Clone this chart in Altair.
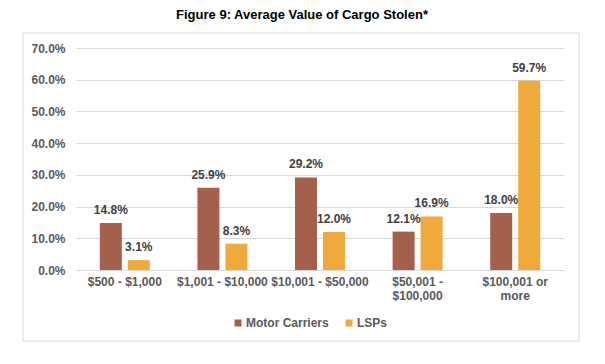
import altair as alt
import pandas as pd

categories = ["$500 - $1,000", "$1,001 - $10,000", "$10,001 - $50,000",
              "$50,001 - $100,000", "$100,001 or more"]
series = ["Motor Carriers", "LSPs"]
motor_carriers = [0.148, 0.259, 0.292, 0.121, 0.180]
lsps = [0.031, 0.083, 0.120, 0.169, 0.597]
y_ticks = [0.0, 0.1, 0.2, 0.3, 0.4, 0.5, 0.6, 0.7]
colors = ["#A3604B", "#F0A93C"]

rows = []
for c, m, l in zip(categories, motor_carriers, lsps):
    rows.append({"range": c, "series": series[0], "value": m})
    rows.append({"range": c, "series": series[1], "value": l})
df = pd.DataFrame(rows)

FONT = "Liberation Sans"

label_expr = ("datum.label == '$50,001 - $100,000' ? ['$50,001 -', '$100,000'] : "
              "datum.label == '$100,001 or more' ? ['$100,001 or', 'more'] : datum.label")

y_enc = alt.Y("value:Q", title=None, scale=alt.Scale(domain=[0, 0.7], nice=False),
              axis=alt.Axis(format=".1%", values=y_ticks, tickCount=8, domain=False,
                            ticks=False, gridColor="#d9d9d9", labelFont=FONT,
                            labelFontSize=12, labelFontWeight="bold",
                            labelColor="#595959", labelPadding=11,
                            labelOverlap=False))

base = alt.Chart(df).encode(
    x=alt.X("range:N", sort=categories, title=None,
            scale=alt.Scale(paddingInner=0.488, paddingOuter=0.244),
            axis=alt.Axis(labelAngle=0, ticks=False, domainColor="#d9d9d9",
                          labelFont=FONT, labelFontSize=12, labelFontWeight="bold",
                          labelColor="#595959", labelPadding=6, labelLineHeight=14,
                          labelExpr=label_expr)),
    xOffset=alt.XOffset("series:N", sort=series,
                        scale=alt.Scale(paddingInner=0.214, paddingOuter=0)),
    y=y_enc,
)

bars = base.mark_bar().encode(
    color=alt.Color("series:N", sort=series,
                    scale=alt.Scale(domain=series, range=colors),
                    legend=alt.Legend(title=None, orient="none", direction="horizontal",
                                      legendX=156, legendY=269, symbolType="square",
                                      symbolSize=49, symbolStrokeWidth=0,
                                      labelFont=FONT, labelFontSize=12,
                                      labelFontWeight="bold", labelColor="#595959",
                                      labelOffset=2, columnPadding=14, padding=0)),
)

labels = base.mark_text(font=FONT, fontSize=12, fontWeight="bold", color="#404040",
                        baseline="alphabetic", dy=-9).encode(
    text=alt.Text("value:Q", format=".1%"),
)

border = alt.Chart(pd.DataFrame({"a": [0]})).mark_rect(
    fill="transparent", stroke="#d9d9d9", strokeWidth=1
).encode(x=alt.value(-53), x2=alt.value(503), y=alt.value(-15), y2=alt.value(293))

chart = alt.layer(border, bars, labels).properties(
    width=488, height=222,
    title=alt.TitleParams("Figure 9: Average Value of Cargo Stolen*", font=FONT,
                          fontSize=13, fontWeight="bold", color="#000000",
                          anchor="middle", frame="group", dx=-18, offset=11),
    autosize=alt.AutoSizeParams(type="none"),
    padding={"left": 68, "top": 40, "right": 25, "bottom": 80},
).configure_view(stroke=None)

chart.save("out.html", embed_options={"renderer": "svg", "actions": False})
